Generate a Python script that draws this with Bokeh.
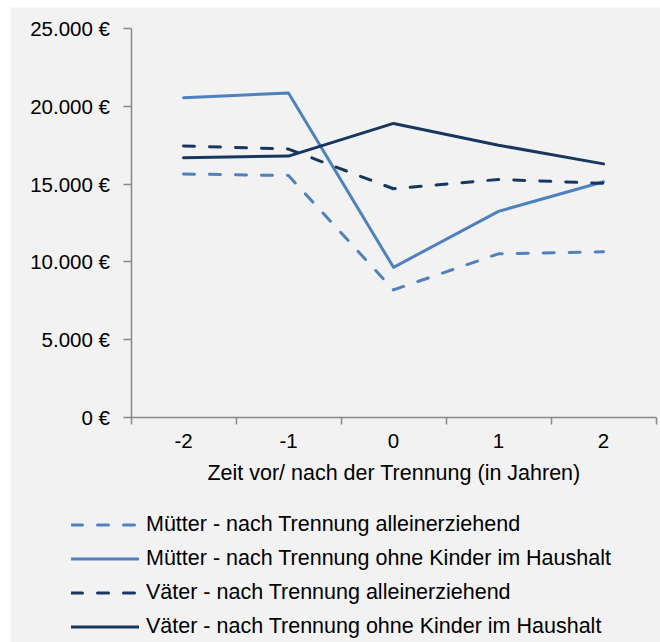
from bokeh.plotting import figure
from bokeh.models import FixedTicker, Range1d, Legend, LegendItem
from bokeh.embed import file_html
from bokeh.resources import INLINE

# ---- data ----
years = [-2, -1, 0, 1, 2]
year_labels = ["-2", "-1", "0", "1", "2"]
muetter_allein = [15650, 15550, 8200, 10520, 10650]
muetter_ohne = [20550, 20850, 9650, 13250, 15150]
vaeter_allein = [17450, 17250, 14700, 15300, 15050]
vaeter_ohne = [16700, 16800, 18900, 17500, 16300]
y_ticks = [0, 5000, 10000, 15000, 20000, 25000]
y_tick_labels = ["0 €", "5.000 €", "10.000 €", "15.000 €", "20.000 €", "25.000 €"]
series_names = [
    "Mütter - nach Trennung alleinerziehend",
    "Mütter - nach Trennung ohne Kinder im Haushalt",
    "Väter - nach Trennung alleinerziehend",
    "Väter - nach Trennung ohne Kinder im Haushalt",
]
x_title = "Zeit vor/ nach der Trennung (in Jahren)"

# ---- style / layout ----
LIGHT = "#4f81bd"
DARK = "#17375e"
BG = "#f2f2f2"
AXIS = "#898989"
FONT = "Liberation Sans"
FS_TICK = "20.5px"
FS_TEXT = "21.5px"

W, H = 660, 642
# gray panel (plot frame) inside the page
PANEL_L, PANEL_T = 10, 7
# pixel position of the chart area inside the page
AX_L, AX_R, AX_T, AX_B = 130.5, 655.5, 28, 417

x0, x1 = years[0] - 0.5, years[-1] + 0.5
y0, y1 = y_ticks[0], y_ticks[-1]
sx = (AX_R - AX_L) / (x1 - x0)
sy = (AX_B - AX_T) / (y1 - y0)
x_range = Range1d(x0 - (AX_L - PANEL_L) / sx, x1 + (W - AX_R) / sx)
y_range = Range1d(y0 - (H - AX_B) / sy, y1 + (AX_T - PANEL_T) / sy)

styles = [
    dict(line_color=LIGHT, line_dash="11 15"),
    dict(line_color=LIGHT, line_dash="solid"),
    dict(line_color=DARK, line_dash="11 15"),
    dict(line_color=DARK, line_dash="solid"),
]
series = [muetter_allein, muetter_ohne, vaeter_allein, vaeter_ohne]

p = figure(width=W, height=H, output_backend="svg", toolbar_location=None,
           x_range=x_range, y_range=y_range,
           min_border_left=PANEL_L, min_border_top=PANEL_T,
           min_border_right=0, min_border_bottom=0)
p.background_fill_color = BG
p.border_fill_color = "white"
p.outline_line_color = None
p.xgrid.visible = False
p.ygrid.visible = False

rends = []
for vals, st in zip(series, styles):
    rends.append(p.line(years, vals, line_width=3, line_cap="round",
                        line_join="round", **st))

# x axis: labels at the categories, tick marks on the category boundaries
boundaries = [y - 0.5 for y in years] + [years[-1] + 0.5]
xa = p.xaxis[0]
xa.fixed_location = y0
xa.bounds = (x0, x1)
xa.ticker = FixedTicker(ticks=years, minor_ticks=boundaries)
xa.major_label_overrides = {y: l for y, l in zip(years, year_labels)}
xa.major_tick_line_color = None
xa.minor_tick_line_color = AXIS
xa.minor_tick_line_width = 1.5
xa.minor_tick_out = 7
xa.minor_tick_in = 0
xa.major_tick_out = 7
xa.major_tick_in = 0
xa.major_label_standoff = 9
xa.axis_line_color = AXIS
xa.axis_line_width = 1.5
xa.axis_label = x_title
xa.axis_label_standoff = 10
xa.axis_label_text_font = FONT
xa.axis_label_text_font_size = FS_TEXT
xa.axis_label_text_font_style = "normal"
xa.axis_label_text_color = "#000000"

ya = p.yaxis[0]
ya.fixed_location = x0
ya.bounds = (y0, y1)
ya.ticker = FixedTicker(ticks=y_ticks, minor_ticks=[])
ya.major_label_overrides = {t: l for t, l in zip(y_ticks, y_tick_labels)}
ya.major_tick_line_color = AXIS
ya.major_tick_line_width = 1.5
ya.major_tick_out = 8
ya.major_tick_in = 0
ya.minor_tick_line_color = None
ya.major_label_standoff = 13
ya.axis_line_color = AXIS
ya.axis_line_width = 1.5

for ax in (xa, ya):
    ax.major_label_text_font = FONT
    ax.major_label_text_font_size = FS_TICK
    ax.major_label_text_color = "#000000"

legend = Legend(
    items=[LegendItem(label=n, renderers=[r]) for n, r in zip(series_names, rends)],
    location=(61, 3),
    orientation="vertical",
    glyph_width=68, glyph_height=25, label_height=25, label_standoff=7,
    spacing=9, padding=0, margin=0,
    border_line_color=None, background_fill_alpha=0,
    label_text_font=FONT, label_text_font_size=FS_TEXT, label_text_color="#000000",
)
p.add_layout(legend)

open("out.html", "w").write(file_html(p, INLINE))
